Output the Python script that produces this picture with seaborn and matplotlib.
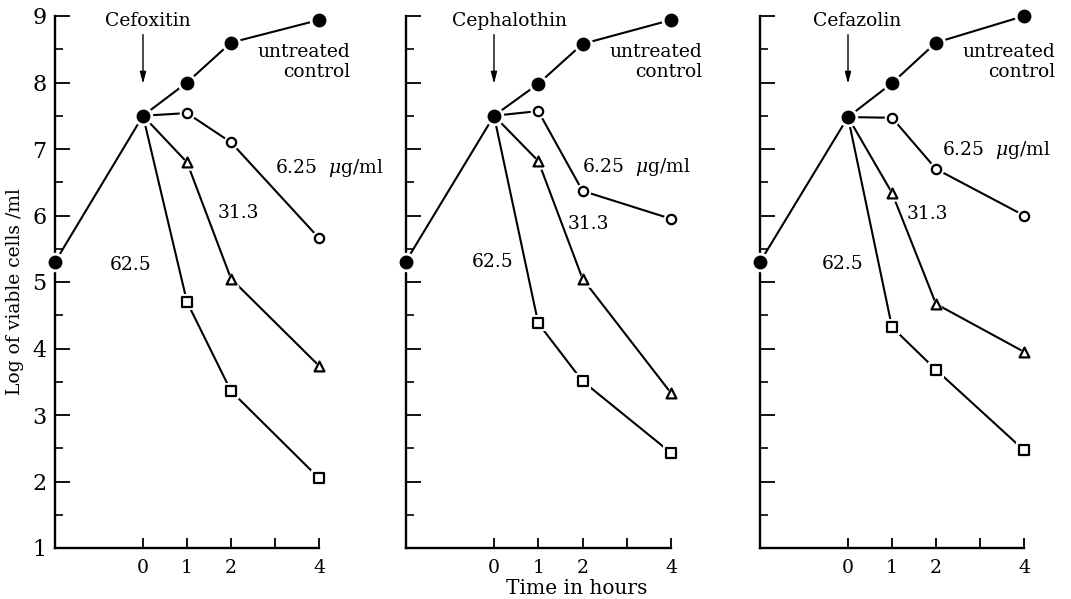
import matplotlib
matplotlib.use('Agg')
import matplotlib.pyplot as plt
import seaborn as sns
import pandas as pd

# ---------------- data ----------------
drugs = ['Cefoxitin', 'Cephalothin', 'Cefazolin']
control_times = [-2, 0, 1, 2, 4]
treated_times = [1, 2, 4]

cefoxitin_control = [5.3, 7.5, 8.0, 8.6, 8.94]
cefoxitin_625 = [7.54, 7.1, 5.66]
cefoxitin_313 = [6.8, 5.05, 3.74]
cefoxitin_625b = [4.7, 3.36, 2.05]

cephalothin_control = [5.3, 7.5, 7.98, 8.58, 8.94]
cephalothin_625 = [7.57, 6.37, 5.95]
cephalothin_313 = [6.82, 5.05, 3.33]
cephalothin_625b = [4.38, 3.51, 2.43]

cefazolin_control = [5.3, 7.48, 7.99, 8.6, 9.0]
cefazolin_625 = [7.47, 6.7, 6.0]
cefazolin_313 = [6.34, 4.67, 3.95]
cefazolin_625b = [4.32, 3.68, 2.47]

series_names = ['control', '6.25', '31.3', '62.5']
x_tick_values = [0, 1, 2, 3, 4]
x_tick_labels = ['0', '1', '2', '', '4']
y_tick_values = [1, 2, 3, 4, 5, 6, 7, 8, 9]

drug_series = {
    'Cefoxitin': (cefoxitin_control, cefoxitin_625, cefoxitin_313, cefoxitin_625b),
    'Cephalothin': (cephalothin_control, cephalothin_625, cephalothin_313, cephalothin_625b),
    'Cefazolin': (cefazolin_control, cefazolin_625, cefazolin_313, cefazolin_625b),
}

rows = []
for drug in drugs:
    ctrl, s1, s2, s3 = drug_series[drug]
    for t, v in zip(control_times, ctrl):
        rows.append(dict(drug=drug, series='control', time=t, value=v, marked=True))
    for name, vals in zip(series_names[1:], (s1, s2, s3)):
        rows.append(dict(drug=drug, series=name, time=0, value=ctrl[1], marked=False))
        for t, v in zip(treated_times, vals):
            rows.append(dict(drug=drug, series=name, time=t, value=v, marked=True))
df = pd.DataFrame(rows)

# ---------------- style ----------------
sns.set_style('ticks')
plt.rcParams['font.family'] = ['DejaVu Serif']
plt.rcParams['mathtext.fontset'] = 'dejavuserif'
plt.rcParams['text.color'] = 'black'
plt.rcParams['axes.labelcolor'] = 'black'
plt.rcParams['xtick.color'] = 'black'
plt.rcParams['ytick.color'] = 'black'

marker_style = {
    'control': dict(marker='o', s=70, fc='black'),
    '6.25': dict(marker='o', s=45, fc='white'),
    '31.3': dict(marker='^', s=50, fc='white'),
    '62.5': dict(marker='s', s=42, fc='white'),
}

W, H = 1071, 599
fig = plt.figure(figsize=(W / 100, H / 100), dpi=100)
fig.patch.set_facecolor('white')

panel_px = [(55, 319), (405.5, 671), (760, 1024)]
y_bot_px, y_top_px = 548, 16

# text positions per drug (data coords)
title_x = {'Cefoxitin': 0.11, 'Cephalothin': 0.34, 'Cefazolin': 0.2}
lab625 = {'Cefoxitin': (3.0, 6.71), 'Cephalothin': (1.99, 6.73), 'Cefazolin': (2.14, 6.98)}
lab313 = {'Cefoxitin': (1.7, 6.04), 'Cephalothin': (1.67, 5.87), 'Cefazolin': (1.34, 6.02)}
lab625b = {'Cefoxitin': (-0.75, 5.26), 'Cephalothin': (-0.5, 5.3), 'Cefazolin': (-0.59, 5.27)}

TXT = 13.5

axes = []
for i, drug in enumerate(drugs):
    l, r = panel_px[i]
    ax = fig.add_axes([l / W, (H - y_bot_px) / H, (r - l) / W, (y_bot_px - y_top_px) / H])
    axes.append(ax)
    sub = df[df.drug == drug]

    for name in series_names:
        s = sub[sub.series == name]
        sns.lineplot(data=s, x='time', y='value', estimator=None, sort=False,
                     color='black', lw=1.5, ax=ax, legend=False, zorder=2)
    for name in series_names:
        s = sub[(sub.series == name) & (sub.marked)]
        st = marker_style[name]
        # white halo to create the small gap between line and marker
        sns.scatterplot(data=s, x='time', y='value', marker=st['marker'], s=st['s'] * 2.8,
                        color='white', edgecolor='white', linewidth=0, ax=ax,
                        legend=False, zorder=3, clip_on=False)
        sns.scatterplot(data=s, x='time', y='value', marker=st['marker'], s=st['s'],
                        color=st['fc'], edgecolor='black', linewidth=1.6, ax=ax,
                        legend=False, zorder=4, clip_on=False)

    ax.set_xlim(-2, 4)
    ax.set_ylim(1, 9)
    ax.set_xticks(x_tick_values)
    ax.set_xticklabels(x_tick_labels)
    ax.set_yticks(y_tick_values)
    ax.set_yticks([v + 0.5 for v in y_tick_values[:-1]], minor=True)
    ax.set_xlabel('')
    ax.set_ylabel('')
    for sp in ('top', 'right'):
        ax.spines[sp].set_visible(False)
    for sp in ('left', 'bottom'):
        ax.spines[sp].set_linewidth(1.7)
        ax.spines[sp].set_color('black')
    ax.tick_params(axis='y', which='major', direction='in', length=11, width=1.3,
                   labelsize=16, pad=6, colors='black')
    ax.tick_params(axis='y', which='minor', direction='in', length=6, width=1.2,
                   colors='black')
    ax.tick_params(axis='x', which='major', direction='in', length=7, width=1.3,
                   labelsize=13.5, pad=8, colors='black')
    if i > 0:
        ax.tick_params(axis='y', labelleft=False)
    ax.set_facecolor('white')

    # annotations
    ax.text(title_x[drug], 8.92, drug, ha='center', va='center', fontsize=TXT)
    ax.annotate('', xy=(0, 7.98), xytext=(0, 8.72),
                arrowprops=dict(arrowstyle='-|>,head_length=0.7,head_width=0.18',
                                color='black', lw=1.0, shrinkA=0, shrinkB=0))
    ax.text(4.7, 8.31, 'untreated\ncontrol', ha='right', va='center', fontsize=TXT,
            linespacing=1.1, clip_on=False)
    x, y = lab625[drug]
    ax.text(x, y, '6.25  $\\mu$g/ml', ha='left', va='center', fontsize=TXT, clip_on=False)
    x, y = lab313[drug]
    ax.text(x, y, '31.3', ha='left', va='center', fontsize=TXT)
    x, y = lab625b[drug]
    ax.text(x, y, '62.5', ha='left', va='center', fontsize=TXT)

fig.text(15 / W, 1 - 292 / H, 'Log of viable cells /ml', rotation=90,
         ha='center', va='center', fontsize=13.5)
fig.text(577 / W, 11 / H, 'Time in hours', ha='center', va='center', fontsize=14.5)

fig.savefig('out.png', dpi=100, facecolor='white')
